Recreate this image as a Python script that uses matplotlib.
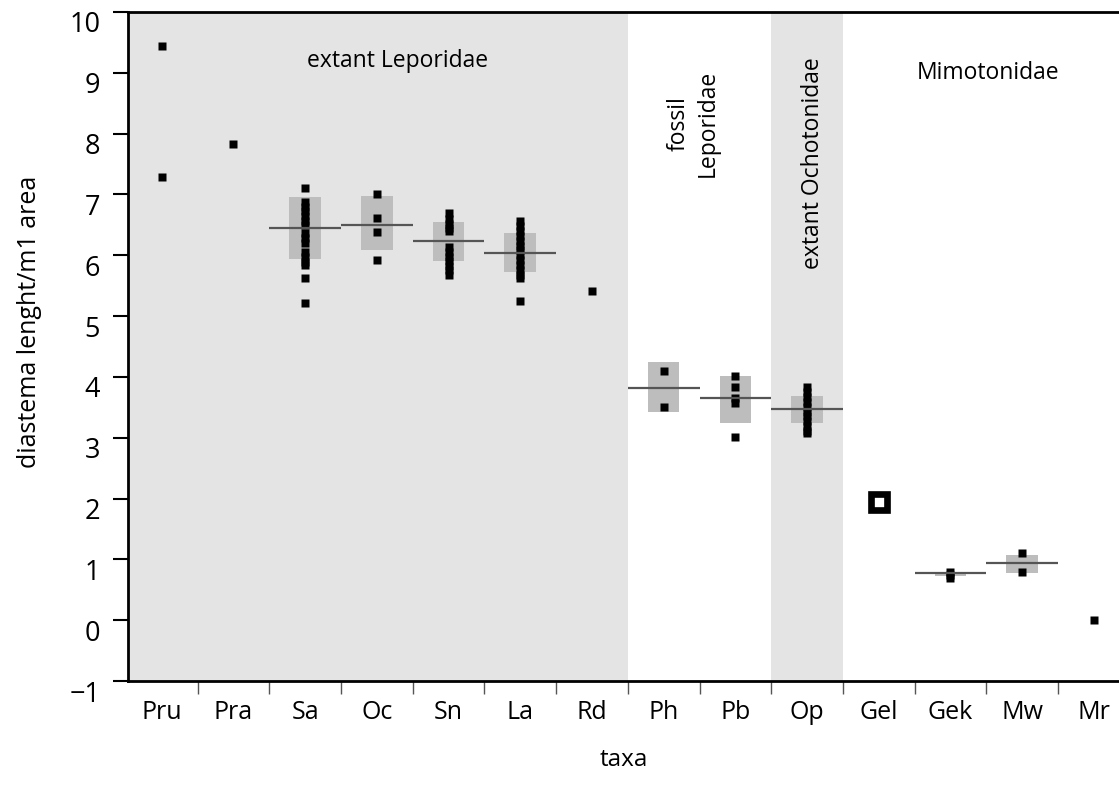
import matplotlib
matplotlib.use("Agg")
import matplotlib.pyplot as plt
import matplotlib.transforms as mtransforms
import numpy as np

plt.rcParams['font.family'] = ['Open Sans', 'DejaVu Sans']

# taxa on the x axis
taxa = ["Pru", "Pra", "Sa", "Oc", "Sn", "La", "Rd", "Ph", "Pb", "Op", "Gel", "Gek", "Mw", "Mr"]

# individual specimens (diastema length / m1 area)
values = [
    [9.44, 7.29],
    [7.83],
    [7.11, 6.88, 6.80, 6.72, 6.64, 6.56, 6.50, 6.36, 6.28, 6.20, 6.05, 5.97, 5.89, 5.84, 5.63, 5.21],
    [7.00, 6.62, 6.39, 5.93],
    [6.69, 6.60, 6.52, 6.45, 6.40, 6.13, 6.05, 5.97, 5.90, 5.82, 5.75, 5.68],
    [6.56, 6.48, 6.40, 6.32, 6.24, 6.16, 6.08, 6.00, 5.92, 5.84, 5.76, 5.68, 5.63, 5.24],
    [5.42],
    [4.09, 3.50],
    [4.01, 3.83, 3.66, 3.57, 3.02],
    [3.83, 3.75, 3.67, 3.59, 3.51, 3.43, 3.35, 3.27, 3.19, 3.11, 3.07],
    [1.94],
    [0.79, 0.74, 0.70],
    [1.10, 0.80],
    [0.00],
]

# summary boxes (lower, upper) and central line, None where not drawn
box_lo = [None, None, 5.94, 6.08, 5.91, 5.73, None, 3.43, 3.25, 3.25, None, 0.72, 0.77, None]
box_hi = [None, None, 6.96, 6.97, 6.54, 6.37, None, 4.24, 4.02, 3.68, None, 0.80, 1.07, None]
centre = [None, None, 6.45, 6.50, 6.24, 6.03, None, 3.81, 3.65, 3.47, None, 0.77, 0.94, None]

hollow = ["Gel"]

fig = plt.figure(figsize=(11.19, 7.94), dpi=100)
ax = fig.add_axes([128 / 1119, 113 / 794, 1 - 128 / 1119, (681 - 12) / 794])

ax.set_xlim(-0.47, 13.35)
ax.set_ylim(-1, 10)

# group shading
ax.axvspan(-0.47, 6.5, color='#e4e4e4', lw=0, zorder=0)
ax.axvspan(8.5, 9.5, color='#e4e4e4', lw=0, zorder=0)

for i, t in enumerate(taxa):
    if box_lo[i] is not None:
        ax.bar(i, box_hi[i] - box_lo[i], bottom=box_lo[i], width=0.44,
               color='#bdbdbd', lw=0, zorder=1)
        ax.hlines(centre[i], i - 0.5, i + 0.5, color='#555555', lw=1.6, zorder=3)
    xs = np.full(len(values[i]), i)
    if t in hollow:
        ax.plot(xs, values[i], 's', ms=11.5, mfc='white', mec='black', mew=4.8, zorder=4)
    else:
        ax.plot(xs, values[i], 's', ms=6, mfc='black', mec='none', zorder=2)

# group labels
ax.text(3.29, 9.2, "extant Leporidae", fontsize=16.5, ha='center', va='center')
ax.text(7.41, 8.17, "fossil\nLeporidae", fontsize=16.5, ha='center', va='center',
        rotation=90, linespacing=1.25)
ax.text(9.08, 7.52, "extant Ochotonidae", fontsize=16.5, ha='center', va='center', rotation=90)
ax.text(11.53, 9.0, "Mimotonidae", fontsize=16.5, ha='center', va='center')

# axes styling
ax.spines['right'].set_visible(False)
for s in ['left', 'top', 'bottom']:
    ax.spines[s].set_linewidth(2)

ax.set_yticks(range(-1, 11))
ax.tick_params(axis='y', direction='out', length=11, width=1.5, labelsize=19.5, pad=9)
shift = mtransforms.ScaledTranslation(0, -0.1, fig.dpi_scale_trans)
for lab in ax.get_yticklabels():
    lab.set_transform(lab.get_transform() + shift)

ax.set_xticks(range(len(taxa)))
ax.set_xticklabels(taxa)
ax.set_xticks(np.arange(0.5, 13, 1), minor=True)
ax.tick_params(axis='x', which='major', length=0, labelsize=18, pad=14)
ax.tick_params(axis='x', which='minor', direction='out', length=9, width=1, color='#555555')

ax.set_xlabel("taxa", fontsize=17.5, labelpad=16)
ax.set_ylabel("diastema lenght/m1 area", fontsize=18)
ax.yaxis.set_label_coords(-0.087, 0.537)

fig.savefig("out.png", dpi=100)
